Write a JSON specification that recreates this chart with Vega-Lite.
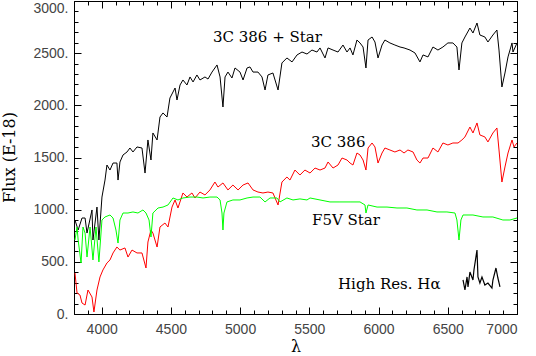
{
  "$schema": "https://vega.github.io/schema/vega-lite/v6.json",
  "autosize": "none",
  "width": 443,
  "height": 313,
  "padding": {"left": 74, "top": 1, "right": 19, "bottom": 42},
  "background": "white",
  "config": {
    "view": {"stroke": "#000", "strokeWidth": 1},
    "axis": {
      "domain": false, "grid": false, "tickColor": "#000", "tickWidth": 1,
      "labelFont": "Liberation Sans", "labelFontSize": 14, "labelColor": "#444",
      "titleFont": "DejaVu Serif", "titleFontWeight": "normal", "titleFontSize": 16, "titleColor": "#000"
    }
  },
  "datasets": {
    "spec": [
      {"s":"A","x":3807,"y":900},{"s":"A","x":3830,"y":805},{"s":"A","x":3858,"y":920},{"s":"A","x":3880,"y":920},{"s":"A","x":3894,"y":776},{"s":"A","x":3930,"y":997},{"s":"A","x":3937,"y":709},{"s":"A","x":3966,"y":1025},{"s":"A","x":3980,"y":709},{"s":"A","x":4002,"y":1121},{"s":"A","x":4024,"y":1284},{"s":"A","x":4038,"y":1428},{"s":"A","x":4060,"y":1380},{"s":"A","x":4082,"y":1447},{"s":"A","x":4110,"y":1447},{"s":"A","x":4118,"y":1284},{"s":"A","x":4132,"y":1457},{"s":"A","x":4154,"y":1524},{"s":"A","x":4183,"y":1553},{"s":"A","x":4204,"y":1591},{"s":"A","x":4226,"y":1553},{"s":"A","x":4255,"y":1601},{"s":"A","x":4291,"y":1591},{"s":"A","x":4313,"y":1351},{"s":"A","x":4334,"y":1668},{"s":"A","x":4356,"y":1476},{"s":"A","x":4370,"y":1735},{"s":"A","x":4400,"y":1668},{"s":"A","x":4421,"y":1888},{"s":"A","x":4443,"y":1927},{"s":"A","x":4472,"y":1888},{"s":"A","x":4493,"y":2070},{"s":"A","x":4530,"y":2166},{"s":"A","x":4544,"y":2051},{"s":"A","x":4566,"y":2195},{"s":"A","x":4587,"y":2243},{"s":"A","x":4616,"y":2195},{"s":"A","x":4638,"y":2272},{"s":"A","x":4660,"y":2224},{"s":"A","x":4688,"y":2291},{"s":"A","x":4710,"y":2243},{"s":"A","x":4746,"y":2272},{"s":"A","x":4768,"y":2252},{"s":"A","x":4797,"y":2319},{"s":"A","x":4833,"y":2387},{"s":"A","x":4855,"y":2272},{"s":"A","x":4876,"y":1984},{"s":"A","x":4891,"y":2272},{"s":"A","x":4912,"y":2319},{"s":"A","x":4941,"y":2262},{"s":"A","x":4963,"y":2358},{"s":"A","x":4999,"y":2319},{"s":"A","x":5021,"y":2243},{"s":"A","x":5050,"y":2358},{"s":"A","x":5071,"y":2368},{"s":"A","x":5093,"y":2319},{"s":"A","x":5129,"y":2319},{"s":"A","x":5158,"y":2272},{"s":"A","x":5180,"y":2147},{"s":"A","x":5201,"y":2291},{"s":"A","x":5237,"y":2310},{"s":"A","x":5274,"y":2147},{"s":"A","x":5302,"y":2406},{"s":"A","x":5338,"y":2454},{"s":"A","x":5375,"y":2416},{"s":"A","x":5411,"y":2483},{"s":"A","x":5447,"y":2511},{"s":"A","x":5483,"y":2492},{"s":"A","x":5519,"y":2530},{"s":"A","x":5555,"y":2511},{"s":"A","x":5577,"y":2550},{"s":"A","x":5613,"y":2454},{"s":"A","x":5635,"y":2550},{"s":"A","x":5671,"y":2530},{"s":"A","x":5707,"y":2511},{"s":"A","x":5743,"y":2578},{"s":"A","x":5772,"y":2511},{"s":"A","x":5794,"y":2550},{"s":"A","x":5815,"y":2483},{"s":"A","x":5844,"y":2626},{"s":"A","x":5866,"y":2598},{"s":"A","x":5888,"y":2559},{"s":"A","x":5909,"y":2358},{"s":"A","x":5924,"y":2626},{"s":"A","x":5953,"y":2655},{"s":"A","x":5974,"y":2607},{"s":"A","x":5996,"y":2454},{"s":"A","x":6025,"y":2578},{"s":"A","x":6046,"y":2626},{"s":"A","x":6082,"y":2598},{"s":"A","x":6118,"y":2578},{"s":"A","x":6155,"y":2559},{"s":"A","x":6184,"y":2550},{"s":"A","x":6227,"y":2530},{"s":"A","x":6263,"y":2502},{"s":"A","x":6299,"y":2416},{"s":"A","x":6321,"y":2483},{"s":"A","x":6357,"y":2464},{"s":"A","x":6393,"y":2559},{"s":"A","x":6429,"y":2530},{"s":"A","x":6465,"y":2559},{"s":"A","x":6501,"y":2598},{"s":"A","x":6537,"y":2598},{"s":"A","x":6566,"y":2559},{"s":"A","x":6581,"y":2339},{"s":"A","x":6602,"y":2598},{"s":"A","x":6624,"y":2655},{"s":"A","x":6660,"y":2741},{"s":"A","x":6682,"y":2693},{"s":"A","x":6711,"y":2789},{"s":"A","x":6732,"y":2674},{"s":"A","x":6768,"y":2655},{"s":"A","x":6790,"y":2607},{"s":"A","x":6826,"y":2674},{"s":"A","x":6855,"y":2722},{"s":"A","x":6870,"y":2530},{"s":"A","x":6891,"y":2176},{"s":"A","x":6913,"y":2310},{"s":"A","x":6935,"y":2464},{"s":"A","x":6964,"y":2598},{"s":"A","x":6971,"y":2511},{"s":"A","x":7000,"y":2598},

      {"s":"R","x":3807,"y":393},{"s":"R","x":3822,"y":201},{"s":"R","x":3843,"y":182},{"s":"R","x":3858,"y":105},{"s":"R","x":3880,"y":86},{"s":"R","x":3901,"y":230},{"s":"R","x":3930,"y":163},{"s":"R","x":3944,"y":19},{"s":"R","x":3966,"y":230},{"s":"R","x":3988,"y":355},{"s":"R","x":4009,"y":422},{"s":"R","x":4038,"y":489},{"s":"R","x":4060,"y":518},{"s":"R","x":4082,"y":585},{"s":"R","x":4110,"y":642},{"s":"R","x":4132,"y":613},{"s":"R","x":4168,"y":633},{"s":"R","x":4190,"y":546},{"s":"R","x":4219,"y":613},{"s":"R","x":4255,"y":585},{"s":"R","x":4291,"y":585},{"s":"R","x":4320,"y":441},{"s":"R","x":4334,"y":690},{"s":"R","x":4356,"y":805},{"s":"R","x":4370,"y":776},{"s":"R","x":4400,"y":642},{"s":"R","x":4421,"y":834},{"s":"R","x":4457,"y":872},{"s":"R","x":4479,"y":834},{"s":"R","x":4508,"y":1025},{"s":"R","x":4530,"y":1093},{"s":"R","x":4551,"y":1016},{"s":"R","x":4587,"y":1160},{"s":"R","x":4616,"y":1121},{"s":"R","x":4652,"y":1160},{"s":"R","x":4674,"y":1112},{"s":"R","x":4710,"y":1169},{"s":"R","x":4746,"y":1141},{"s":"R","x":4782,"y":1189},{"s":"R","x":4818,"y":1265},{"s":"R","x":4840,"y":1217},{"s":"R","x":4876,"y":1256},{"s":"R","x":4912,"y":1189},{"s":"R","x":4948,"y":1236},{"s":"R","x":4985,"y":1189},{"s":"R","x":5021,"y":1236},{"s":"R","x":5057,"y":1256},{"s":"R","x":5093,"y":1189},{"s":"R","x":5129,"y":1169},{"s":"R","x":5165,"y":1160},{"s":"R","x":5201,"y":1169},{"s":"R","x":5237,"y":1160},{"s":"R","x":5274,"y":1045},{"s":"R","x":5302,"y":1265},{"s":"R","x":5338,"y":1313},{"s":"R","x":5360,"y":1284},{"s":"R","x":5396,"y":1380},{"s":"R","x":5432,"y":1332},{"s":"R","x":5468,"y":1380},{"s":"R","x":5505,"y":1351},{"s":"R","x":5541,"y":1399},{"s":"R","x":5577,"y":1380},{"s":"R","x":5613,"y":1399},{"s":"R","x":5635,"y":1457},{"s":"R","x":5671,"y":1399},{"s":"R","x":5707,"y":1428},{"s":"R","x":5736,"y":1495},{"s":"R","x":5772,"y":1476},{"s":"R","x":5794,"y":1447},{"s":"R","x":5815,"y":1428},{"s":"R","x":5844,"y":1543},{"s":"R","x":5866,"y":1524},{"s":"R","x":5888,"y":1476},{"s":"R","x":5909,"y":1380},{"s":"R","x":5924,"y":1591},{"s":"R","x":5953,"y":1639},{"s":"R","x":5974,"y":1601},{"s":"R","x":5996,"y":1447},{"s":"R","x":6025,"y":1543},{"s":"R","x":6046,"y":1591},{"s":"R","x":6082,"y":1572},{"s":"R","x":6118,"y":1553},{"s":"R","x":6155,"y":1572},{"s":"R","x":6184,"y":1543},{"s":"R","x":6212,"y":1572},{"s":"R","x":6249,"y":1553},{"s":"R","x":6277,"y":1476},{"s":"R","x":6299,"y":1447},{"s":"R","x":6321,"y":1495},{"s":"R","x":6357,"y":1495},{"s":"R","x":6393,"y":1591},{"s":"R","x":6429,"y":1553},{"s":"R","x":6465,"y":1639},{"s":"R","x":6501,"y":1620},{"s":"R","x":6537,"y":1639},{"s":"R","x":6574,"y":1639},{"s":"R","x":6602,"y":1668},{"s":"R","x":6624,"y":1697},{"s":"R","x":6660,"y":1792},{"s":"R","x":6682,"y":1735},{"s":"R","x":6711,"y":1831},{"s":"R","x":6732,"y":1716},{"s":"R","x":6768,"y":1697},{"s":"R","x":6790,"y":1649},{"s":"R","x":6826,"y":1735},{"s":"R","x":6855,"y":1783},{"s":"R","x":6870,"y":1572},{"s":"R","x":6891,"y":1265},{"s":"R","x":6913,"y":1409},{"s":"R","x":6935,"y":1543},{"s":"R","x":6964,"y":1668},{"s":"R","x":6978,"y":1601},{"s":"R","x":7000,"y":1639},

      {"s":"G","x":3807,"y":709},{"s":"G","x":3822,"y":834},{"s":"G","x":3830,"y":709},{"s":"G","x":3851,"y":489},{"s":"G","x":3865,"y":834},{"s":"G","x":3880,"y":776},{"s":"G","x":3894,"y":546},{"s":"G","x":3916,"y":834},{"s":"G","x":3937,"y":518},{"s":"G","x":3959,"y":834},{"s":"G","x":3980,"y":499},{"s":"G","x":4002,"y":901},{"s":"G","x":4024,"y":930},{"s":"G","x":4060,"y":949},{"s":"G","x":4082,"y":920},{"s":"G","x":4103,"y":805},{"s":"G","x":4118,"y":680},{"s":"G","x":4132,"y":901},{"s":"G","x":4154,"y":968},{"s":"G","x":4190,"y":968},{"s":"G","x":4226,"y":978},{"s":"G","x":4262,"y":968},{"s":"G","x":4298,"y":997},{"s":"G","x":4320,"y":968},{"s":"G","x":4342,"y":901},{"s":"G","x":4356,"y":738},{"s":"G","x":4370,"y":968},{"s":"G","x":4407,"y":1016},{"s":"G","x":4443,"y":1025},{"s":"G","x":4479,"y":1045},{"s":"G","x":4515,"y":1112},{"s":"G","x":4551,"y":1093},{"s":"G","x":4587,"y":1112},{"s":"G","x":4638,"y":1121},{"s":"G","x":4688,"y":1121},{"s":"G","x":4732,"y":1112},{"s":"G","x":4782,"y":1121},{"s":"G","x":4833,"y":1121},{"s":"G","x":4855,"y":1093},{"s":"G","x":4869,"y":968},{"s":"G","x":4876,"y":805},{"s":"G","x":4883,"y":968},{"s":"G","x":4905,"y":1074},{"s":"G","x":4948,"y":1093},{"s":"G","x":4999,"y":1093},{"s":"G","x":5050,"y":1112},{"s":"G","x":5093,"y":1121},{"s":"G","x":5143,"y":1121},{"s":"G","x":5180,"y":1074},{"s":"G","x":5216,"y":1112},{"s":"G","x":5266,"y":1112},{"s":"G","x":5288,"y":1074},{"s":"G","x":5338,"y":1112},{"s":"G","x":5382,"y":1093},{"s":"G","x":5432,"y":1103},{"s":"G","x":5483,"y":1093},{"s":"G","x":5505,"y":1112},{"s":"G","x":5577,"y":1093},{"s":"G","x":5649,"y":1074},{"s":"G","x":5721,"y":1074},{"s":"G","x":5794,"y":1074},{"s":"G","x":5866,"y":1074},{"s":"G","x":5902,"y":1045},{"s":"G","x":5909,"y":968},{"s":"G","x":5924,"y":1045},{"s":"G","x":5989,"y":1025},{"s":"G","x":6061,"y":1025},{"s":"G","x":6133,"y":1016},{"s":"G","x":6205,"y":1016},{"s":"G","x":6277,"y":997},{"s":"G","x":6350,"y":997},{"s":"G","x":6422,"y":978},{"s":"G","x":6494,"y":978},{"s":"G","x":6552,"y":968},{"s":"G","x":6566,"y":901},{"s":"G","x":6581,"y":709},{"s":"G","x":6595,"y":901},{"s":"G","x":6610,"y":949},{"s":"G","x":6682,"y":949},{"s":"G","x":6754,"y":930},{"s":"G","x":6826,"y":930},{"s":"G","x":6898,"y":901},{"s":"G","x":6949,"y":901},{"s":"G","x":7000,"y":920}
    ],
    "halpha": [
      {"x":6610,"y":326},{"x":6624,"y":230},{"x":6639,"y":355},{"x":6646,"y":259},{"x":6660,"y":403},{"x":6682,"y":326},{"x":6689,"y":422},{"x":6711,"y":613},{"x":6718,"y":355},{"x":6732,"y":297},{"x":6747,"y":355},{"x":6768,"y":278},{"x":6790,"y":297},{"x":6819,"y":249},{"x":6826,"y":326},{"x":6848,"y":441},{"x":6862,"y":345},{"x":6877,"y":259}
    ],
    "labels1": [
      {"x":4804,"y":2655,"t":"3C 386 + Star"},
      {"x":5512,"y":1649,"t":"3C 386"}
    ],
    "labels2": [
      {"x":5519,"y":901,"t":"F5V Star"},
      {"x":5707,"y":288,"t":"High Res. Hα"}
    ]
  },
  "layer": [
    {
      "data": {"name": "spec"},
      "mark": {"type": "line", "strokeWidth": 1, "clip": true},
      "encoding": {
        "x": {"field": "x", "type": "quantitative", "scale": {"domain": [3800, 7000], "nice": false, "zero": false},
              "axis": {"orient": "bottom", "values": [4000,4500,5000,5500,6000,6500,7000], "tickSize": -7, "labelPadding": 15, "format": "d", "title": "λ", "titleY": 37, "titleBaseline": "alphabetic"}},
        "y": {"field": "y", "type": "quantitative", "scale": {"domain": [0, 3000], "nice": false},
              "axis": {"orient": "left", "values": [0,500,1000,1500,2000,2500,3000], "tickSize": -7, "labelPadding": 13, "labelExpr": "datum.value + '.'",
                       "labelBaseline": {"condition": {"test": "datum.value === 3000", "value": "top"}, "value": "middle"},
                       "title": "Flux (E-18)", "titleX": -60, "titleY": 156, "titleAngle": -90, "titleBaseline": "alphabetic", "titleAlign": "center"}},
        "color": {"field": "s", "type": "nominal", "scale": {"domain": ["A","R","G"], "range": ["#000000","#ff0000","#00ff00"]}, "legend": null},
        "order": {"field": "x", "type": "quantitative"}
      }
    },
    {
      "data": {"name": "halpha"},
      "mark": {"type": "line", "strokeWidth": 1.2, "color": "#000", "clip": true},
      "encoding": {
        "x": {"field": "x", "type": "quantitative", "axis": {"orient": "bottom", "values": [3800,3900,4000,4100,4200,4300,4400,4500,4600,4700,4800,4900,5000,5100,5200,5300,5400,5500,5600,5700,5800,5900,6000,6100,6200,6300,6400,6500,6600,6700,6800,6900,7000], "tickSize": -4, "labels": false, "title": null}},
        "y": {"field": "y", "type": "quantitative", "axis": {"orient": "left", "values": [0,100,200,300,400,500,600,700,800,900,1000,1100,1200,1300,1400,1500,1600,1700,1800,1900,2000,2100,2200,2300,2400,2500,2600,2700,2800,2900,3000], "tickSize": -4, "labels": false, "title": null}}
      }
    },
    {
      "data": {"name": "labels1"},
      "mark": {"type": "text", "align": "left", "baseline": "middle", "font": "DejaVu Serif", "fontSize": 15, "color": "#000"},
      "encoding": {
        "x": {"field": "x", "type": "quantitative", "axis": {"orient": "top", "values": [4000,4500,5000,5500,6000,6500,7000], "tickSize": -7, "labels": false, "title": null}},
        "y": {"field": "y", "type": "quantitative", "axis": {"orient": "right", "values": [0,500,1000,1500,2000,2500,3000], "tickSize": -7, "labels": false, "title": null}},
        "text": {"field": "t"}
      }
    },
    {
      "data": {"name": "labels2"},
      "mark": {"type": "text", "align": "left", "baseline": "middle", "font": "DejaVu Serif", "fontSize": 15, "color": "#000"},
      "encoding": {
        "x": {"field": "x", "type": "quantitative", "axis": {"orient": "top", "values": [3800,3900,4000,4100,4200,4300,4400,4500,4600,4700,4800,4900,5000,5100,5200,5300,5400,5500,5600,5700,5800,5900,6000,6100,6200,6300,6400,6500,6600,6700,6800,6900,7000], "tickSize": -4, "labels": false, "title": null}},
        "y": {"field": "y", "type": "quantitative", "axis": {"orient": "right", "values": [0,100,200,300,400,500,600,700,800,900,1000,1100,1200,1300,1400,1500,1600,1700,1800,1900,2000,2100,2200,2300,2400,2500,2600,2700,2800,2900,3000], "tickSize": -4, "labels": false, "title": null}},
        "text": {"field": "t"}
      }
    }
  ],
  "resolve": {"axis": {"x": "independent", "y": "independent"}}
}
